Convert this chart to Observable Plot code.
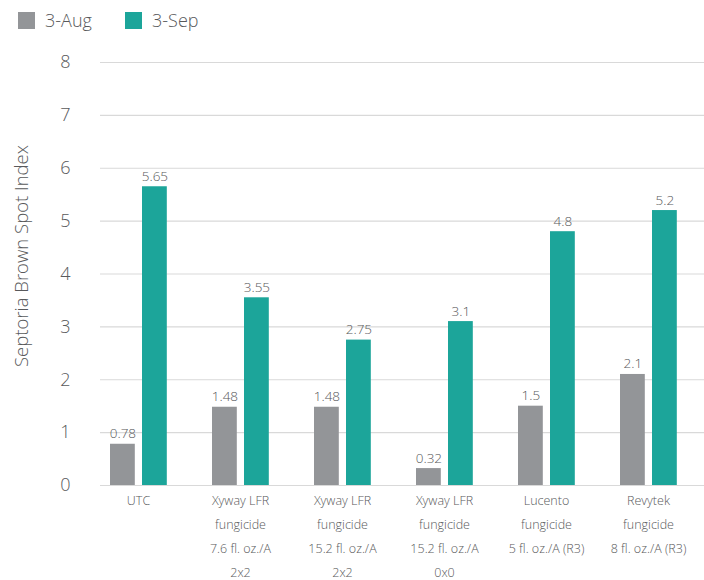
<!DOCTYPE html>
<html>
<head>
<meta charset="utf-8">
<script src="https://cdn.jsdelivr.net/npm/d3@7"></script>
<script src="https://cdn.jsdelivr.net/npm/@observablehq/plot@0.6"></script>
<style>
  html, body { margin: 0; padding: 0; background: #fff; }
  body { width: 704px; height: 580px; overflow: hidden; font-family: "Open Sans", sans-serif; color: #58595b; }
  .legend { height: 40px; position: relative; }
  .item { position: absolute; top: 8px; display: flex; align-items: center; font-size: 18px; font-weight: 300; }
  .sw { width: 17px; height: 17px; margin-right: 10px; }
  #chart svg { display: block; }
</style>
</head>
<body>
<div class="legend" id="legend"></div>
<div id="chart"></div>
<script>
const categories = [
  "UTC",
  "Xyway LFR\nfungicide\n7.6 fl. oz./A\n2x2",
  "Xyway LFR\nfungicide\n15.2 fl. oz./A\n2x2",
  "Xyway LFR\nfungicide\n15.2 fl. oz./A\n0x0",
  "Lucento\nfungicide\n5 fl. oz./A (R3)",
  "Revytek\nfungicide\n8 fl. oz./A (R3)"
];
const series = ["3-Aug", "3-Sep"];
const augValues = [0.78, 1.48, 1.48, 0.32, 1.5, 2.1];
const sepValues = [5.65, 3.55, 2.75, 3.1, 4.8, 5.2];
const yTicks = [0, 1, 2, 3, 4, 5, 6, 7, 8];
const colors = ["#939598", "#1ca59a"];
const yTitle = "Septoria Brown Spot Index";

const augData = categories.map((c, i) => ({category: c, series: series[0], value: augValues[i]}));
const sepData = categories.map((c, i) => ({category: c, series: series[1], value: sepValues[i]}));

// legend
const legend = document.getElementById("legend");
const legendLeft = [18, 125];
series.forEach((s, i) => {
  const item = document.createElement("div");
  item.className = "item";
  item.style.left = legendLeft[i] + "px";
  item.innerHTML = `<span class="sw" style="background:${colors[i]}"></span><span>${s}</span>`;
  legend.appendChild(item);
});

const textColor = "#58595b";
const chart = Plot.plot({
  width: 704,
  height: 540,
  marginLeft: 86,
  marginRight: 5,
  marginTop: 22,
  marginBottom: 95,
  style: {fontFamily: "Open Sans, sans-serif", fontWeight: 300, color: textColor, background: "white"},
  x: {domain: categories, padding: 0, label: null},
  y: {domain: [0, 8], label: null},
  color: {domain: series, range: colors},
  marks: [
    Plot.ruleY(yTicks, {stroke: "#d9d9d9", strokeWidth: 1.2, insetLeft: 14, insetRight: -5}),
    Plot.barY(augData, {x: "category", y: "value", fill: "series", insetLeft: 23, insetRight: 54.2}),
    Plot.barY(sepData, {x: "category", y: "value", fill: "series", insetLeft: 55, insetRight: 22.2}),
    Plot.text(augData, {x: "category", y: "value", text: d => String(d.value), dx: -15.6, dy: -6, lineAnchor: "bottom", fontSize: 13.5, fontWeight: 300, fill: textColor}),
    Plot.text(sepData, {x: "category", y: "value", text: d => String(d.value), dx: 16.4, dy: -6, lineAnchor: "bottom", fontSize: 13.5, fontWeight: 300, fill: textColor}),
    Plot.axisY(yTicks, {tickSize: 0, tickPadding: 16, fontSize: 18, fontWeight: 300, tickFormat: d => String(d), label: null, fill: textColor}),
    Plot.axisX({tickSize: 0, tickPadding: 3, fontSize: 12.5, fontWeight: 300, lineHeight: 1.9, label: null, fill: textColor}),
    Plot.text([yTitle], {frameAnchor: "left", textAnchor: "middle", rotate: -90, dx: -64, dy: -18, fontSize: 18.5, fontWeight: 300, fill: textColor})
  ]
});
document.getElementById("chart").appendChild(chart);
</script>
</body>
</html>
